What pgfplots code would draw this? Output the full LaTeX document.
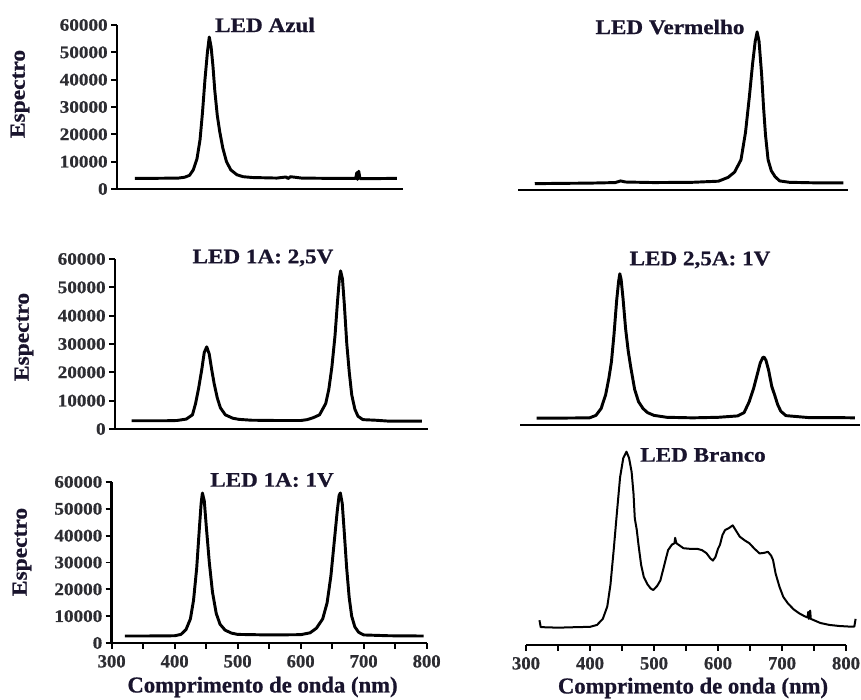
\documentclass[border=0pt]{standalone}
\usepackage{fontspec}
\setmainfont{Liberation Serif}
\newfontfamily\ytickfont[FakeStretch=1.08,FakeBold=0.6]{Liberation Serif}
\newfontfamily\xtickfont[FakeStretch=1.0,FakeBold=0.6]{Liberation Serif}
\newfontfamily\titlefont[FakeStretch=1.12,FakeBold=0.8]{Liberation Serif}
\newfontfamily\ylabfont[FakeStretch=1.1,FakeBold=0.8]{Liberation Serif}
\newfontfamily\xlabfont[FakeBold=0.8]{Liberation Serif}
\usepackage{pgfplots}
\pgfplotsset{compat=1.18}
\definecolor{txt}{RGB}{25,20,45}
\definecolor{tck}{RGB}{45,45,50}

\pgfplotsset{
  base/.style={scale only axis, clip=false, anchor=south west, ymin=0,
    axis line style={line width=2pt, black},
    every tick/.style={black, line width=1.3pt},
    major tick length=4.5pt, minor tick length=4.5pt,
    /pgf/number format/assume math mode=true,
    /pgf/number format/1000 sep={}, scaled ticks=false},
  leftp/.style={base, axis x line*=bottom, axis y line*=left, ymax=60000,
    ytick={0,10000,...,60000}, ytick align=outside,
    yticklabel style={font=\ytickfont\bfseries\fontsize{13.3}{14}\selectfont, text=tck, xshift=1pt}},
  rightp/.style={base, axis x line*=bottom, hide y axis, ymax=60000},
  noxt/.style={xtick=\empty},
  botx/.style={xtick={300,400,...,800}, minor xtick={350,450,...,750}, xtick align=outside,
    xticklabel style={font=\xtickfont\bfseries\fontsize{14}{15}\selectfont, text=tck, yshift=-1pt}},
  curve/.style={black, line width=2.2pt, no markers, line join=round},
}

\begin{document}
\begin{tikzpicture}
\path[use as bounding box] (0,0) rectangle (645.75pt,525pt);

% ---------- Top left: LED Azul
\begin{axis}[leftp, noxt, at={(87.75pt,383.25pt)}, width=214.5pt, height=123pt, xmin=300, xmax=765]
\addplot[curve] coordinates {
(329,3900) (360,3900) (400,4000) (410,4300) (418,5000) (424,7000) (430,11000) (435,18000)
(439,28000) (443,40000) (447,50000) (450,55600) (453,52000) (456,45000) (459,36000) (463,27000)
(467,21000) (472,15000) (478,10000) (485,7000) (495,5200) (505,4500) (520,4200) (560,4000)
(575,4400) (578,3800) (582,4500) (600,4000) (640,3900) (688,3900) (690,6000) (691,3500)
(693,6500) (695,3800) (720,3800) (755,3900)};
\end{axis}

% ---------- Top right: LED Vermelho
\begin{axis}[rightp, noxt, at={(388.5pt,382.5pt)}, width=247.5pt, height=123.75pt, xmin=289, xmax=801]
\addplot[curve] coordinates {
(315,2300) (350,2400) (400,2500) (440,2700) (448,3300) (456,2900) (500,2700) (560,2800) (600,3200)
(615,4600) (625,6500) (635,11000) (642,21000) (648,34000) (653,46000) (657,54000) (660,57500)
(663,54000) (667,42000) (670,30000) (673,20000) (677,11000) (682,7000) (688,4800) (695,3300)
(710,2800) (750,2600) (794,2600)};
\end{axis}

% ---------- Middle left: LED 1A: 2,5V
\begin{axis}[leftp, noxt, at={(86.25pt,203.25pt)}, width=234.75pt, height=127.5pt, xmin=300, xmax=805]
\addplot[curve] coordinates {
(327,2900) (350,2900) (380,2900) (400,3000) (415,3500) (425,5000) (430,9000) (435,14500)
(440,21000) (444,27000) (448,29000) (452,26500) (456,21000) (460,16000) (465,11000) (470,7500)
(478,5000) (490,3800) (500,3400) (520,3100) (560,3000) (600,3000) (610,3300) (620,4000)
(630,5000) (640,9000) (645,14000) (650,22000) (655,33000) (659,45000) (662,53000) (664,55800)
(667,53000) (670,44000) (674,30000) (678,20000) (682,12000) (687,7000) (692,4500) (700,3300)
(720,3100) (740,2800) (760,2800) (795,2800)};
\end{axis}

% ---------- Middle right: LED 2,5A: 1V
\begin{axis}[rightp, noxt, at={(390pt,206.25pt)}, width=255pt, height=123.75pt, xmin=292, xmax=820]
\addplot[curve] coordinates {
(318,2500) (350,2500) (400,2600) (410,3500) (418,6000) (425,11000) (430,17000) (434,23000)
(438,33000) (442,45000) (445,52000) (447,55000) (449,53000) (452,46000) (456,35000) (460,27000)
(464,21000) (470,13000) (476,8500) (483,6000) (490,4500) (500,3500) (520,2800) (560,2600)
(600,2800) (630,3300) (640,4500) (648,8500) (655,13500) (660,18000) (665,22500) (669,24500)
(671,24700) (674,23500) (678,20000) (683,14000) (688,10500) (692,7500) (697,5000) (705,3400)
(740,2700) (780,2700) (812,2600)};
\end{axis}

% ---------- Bottom left: LED 1A: 1V
\begin{axis}[leftp, botx, at={(83.75pt,42.75pt)}, width=236.25pt, height=120.75pt, xmin=300, xmax=800]
\addplot[curve] coordinates {
(321,2600) (350,2600) (400,2700) (410,3200) (418,5000) (425,9000) (430,16000) (435,28000)
(439,42000) (442,52000) (444,55900) (447,53000) (450,44000) (455,30000) (460,19000) (466,11000)
(472,7000) (480,4800) (490,3700) (500,3200) (550,3000) (600,3100) (615,3800) (625,5500)
(635,9000) (642,15000) (648,25000) (653,37000) (658,49000) (661,55000) (663,55900) (666,52000)
(669,42000) (673,28000) (677,17000) (681,10000) (686,6000) (692,4000) (700,3000) (740,2700)
(795,2600)};
\end{axis}

% ---------- Bottom right: LED Branco
\begin{axis}[rightp, botx, at={(394.5pt,41.25pt)}, width=240pt, height=123.75pt, xmin=300, xmax=800]
\addplot[black, line width=1.5pt, no markers, line join=round] coordinates {
(321,9000) (323,6500) (350,6300) (380,6500) (400,6600) (411,7300) (420,9500) (427,14000)
(432,22000) (437,34500) (442,48000) (447,61000) (452,68000) (457,70300) (461,68000) (465,63000)
(468,55000) (470,46000) (473,42000) (476,36000) (480,29000) (484,24800) (490,22000) (495,20500)
(499,20000) (505,21500) (510,23500) (516,29000) (522,34500) (528,36500) (532,37000) (533,39000)
(535,37000) (546,35200) (555,35000) (567,35000) (575,34500) (582,33400) (588,31500) (592,30700)
(596,32000) (600,35000) (603,36400) (607,40000) (611,41800) (617,42500) (623,43500) (627,42000)
(634,39400) (642,38000) (649,37000) (657,35000) (665,33300) (672,33500) (678,33900) (683,32500)
(686,30900) (690,26000) (696,21200) (702,17500) (709,15200) (718,13000) (727,11500) (735,10500)
(740,10000) (741,12000) (742,9500) (744,12500) (745,9500) (750,9000) (760,8000) (774,7300)
(790,6900) (805,6700) (813,6700) (815,9500)};
\end{axis}

% ---------- Titles and labels
\begin{scope}[every node/.style={text=txt}]
\node[font=\titlefont\bfseries\fontsize{15.5}{16}\selectfont] at (198.75pt,506.25pt) {LED Azul};
\node[font=\titlefont\bfseries\fontsize{15.5}{16}\selectfont] at (502.5pt,504.75pt) {LED Vermelho};
\node[font=\titlefont\bfseries\fontsize{15.5}{16}\selectfont] at (197.25pt,331.5pt) {LED 1A: 2,5V};
\node[font=\titlefont\bfseries\fontsize{15.5}{16}\selectfont] at (525pt,330pt) {LED 2,5A: 1V};
\node[font=\titlefont\bfseries\fontsize{15.5}{16}\selectfont] at (204pt,165pt) {LED 1A: 1V};
\node[font=\titlefont\bfseries\fontsize{15.5}{16}\selectfont] at (527.25pt,183.75pt) {LED Branco};
\node[font=\ylabfont\bfseries\fontsize{16}{17}\selectfont, rotate=90] at (15pt,454.5pt) {Espectro};
\node[font=\ylabfont\bfseries\fontsize{16}{17}\selectfont, rotate=90] at (18pt,272.25pt) {Espectro};
\node[font=\ylabfont\bfseries\fontsize{16}{17}\selectfont, rotate=90] at (16.5pt,111pt) {Espectro};
\node[font=\xlabfont\bfseries\fontsize{17}{18}\selectfont] at (196.9pt,9.75pt) {Comprimento de onda (nm)};
\node[font=\xlabfont\bfseries\fontsize{17}{18}\selectfont] at (519.75pt,9pt) {Comprimento de onda (nm)};
\end{scope}
\end{tikzpicture}
\end{document}
